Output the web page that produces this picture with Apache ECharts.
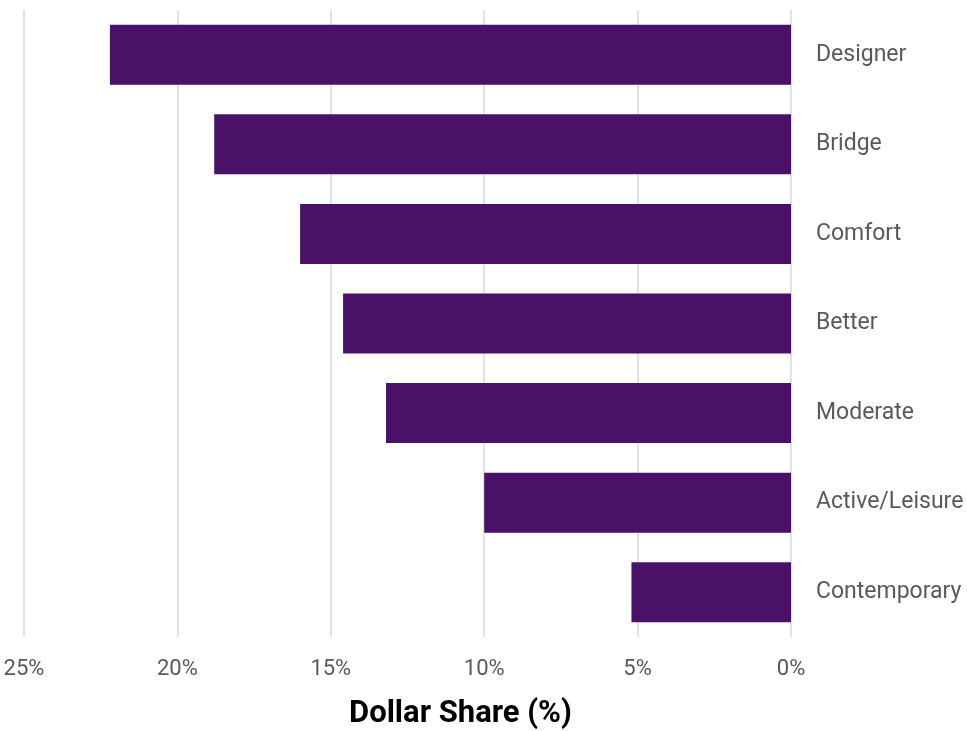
<!DOCTYPE html>
<html>
<head>
<meta charset="utf-8">
<script src="https://cdn.jsdelivr.net/npm/echarts@6/dist/echarts.min.js"></script>
<style>
  html, body { margin: 0; padding: 0; background: #ffffff; }
  #chart { width: 967px; height: 731px; }
</style>
</head>
<body>
<div id="chart"></div>
<script>
// Apparel price tiers and their dollar share
const categories = ['Designer', 'Bridge', 'Comfort', 'Better', 'Moderate', 'Active/Leisure', 'Contemporary'];
const dollarShare = [22.2, 18.8, 16.0, 14.6, 13.2, 10.0, 5.2];
const axisTitle = 'Dollar Share (%)';

const chart = echarts.init(document.getElementById('chart'));
chart.setOption({
  backgroundColor: '#ffffff',
  animation: false,
  grid: { left: 24, right: 176, top: 10, bottom: 94, containLabel: false },
  xAxis: {
    type: 'value',
    inverse: true,
    min: 0,
    max: 25,
    interval: 5,
    axisLine: { show: false },
    axisTick: { show: false },
    splitLine: { show: true, lineStyle: { color: '#d9d9d9', width: 1.5 } },
    axisLabel: {
      formatter: '{value}%',
      color: '#595959',
      fontFamily: 'Roboto',
      fontSize: 22,
      margin: 21
    }
  },
  yAxis: {
    type: 'category',
    data: categories,
    inverse: true,
    position: 'right',
    axisLine: { show: false },
    axisTick: { show: false },
    axisLabel: {
      color: '#595959',
      fontFamily: 'Roboto',
      fontSize: 23,
      align: 'left',
      margin: 25
    }
  },
  series: [{
    type: 'bar',
    data: dollarShare,
    barWidth: 60,
    itemStyle: { color: '#4b1068' }
  }],
  graphic: [{
    type: 'text',
    left: 349,
    top: 699,
    style: {
      text: axisTitle,
      fill: '#000000',
      font: 'bold 31px Roboto'
    }
  }]
});
</script>
</body>
</html>
